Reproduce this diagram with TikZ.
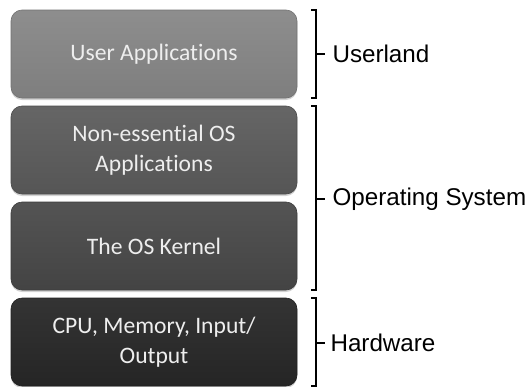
\documentclass[tikz,border=0pt]{standalone}
\usepackage{fontspec}
\setmainfont{Carlito}[Ligatures=NoCommon]
\newfontfamily\labelfont{Liberation Sans}
\usetikzlibrary{shadows}
\definecolor{boxA}{HTML}{858585}
\definecolor{boxB}{HTML}{5A5A5A}
\definecolor{boxC}{HTML}{474747}
\definecolor{boxD}{HTML}{272727}
\definecolor{txt}{HTML}{EEEEEE}
\begin{document}
\begin{tikzpicture}[x=1pt,y=-1pt,
  layer/.style={rounded corners=11pt, minimum width=286pt, minimum height=88pt,
    inner sep=0pt, text=txt, align=center,
    font=\fontsize{23.6}{29.5}\selectfont,
    drop shadow={opacity=0.35, shadow xshift=0pt, shadow yshift=-2pt}},
  brace/.style={line width=2pt, line cap=butt, line join=miter},
  tip/.style={line width=2.6pt},
  side/.style={anchor=west, font=\labelfont\fontsize{24.2}{28}\selectfont, text=black}]
\useasboundingbox (0,0) rectangle (530,386);
\node[layer, top color=boxA!93!white, bottom color=boxA!95!black, draw=boxA!85!black, line width=0.6pt] (ua) at (154,54) {User Applications};
\node[layer, top color=boxB!93!white, bottom color=boxB!95!black, draw=boxB!85!black, line width=0.6pt] (ne) at (154,150) {Non-essential OS\\Applications};
\node[layer, top color=boxC!93!white, bottom color=boxC!95!black, draw=boxC!85!black, line width=0.6pt] (kr) at (154,246) {The OS Kernel};
\node[layer, top color=boxD!94!white, bottom color=boxD!95!black, draw=boxD!85!black, line width=0.6pt] (hw) at (154,342) {CPU, Memory, Input/\\Output};
% braces
\draw[brace] (311,10) -- (316,10) -- (316,98) -- (311,98);
\coordinate (t1) at (316,54);
\draw[tip] (t1) -- ++(9,0) coordinate (e1);
\node[side] (l1) at ([xshift=4pt]e1) {Userland};
\draw[brace] (311,106) -- (316,106) -- (316,290) -- (311,290);
\coordinate (t2) at (316,199);
\draw[tip] (t2) -- ++(9,0) coordinate (e2);
\node[side] (l2) at ([xshift=4pt]e2) {Operating System};
\draw[brace] (311,298) -- (316,298) -- (316,386) -- (311,386);
\coordinate (t3) at (316,343);
\draw[tip] (t3) -- ++(9,0) coordinate (e3);
\node[side] (l3) at ([xshift=2pt]e3) {Hardware};
\end{tikzpicture}
\end{document}
